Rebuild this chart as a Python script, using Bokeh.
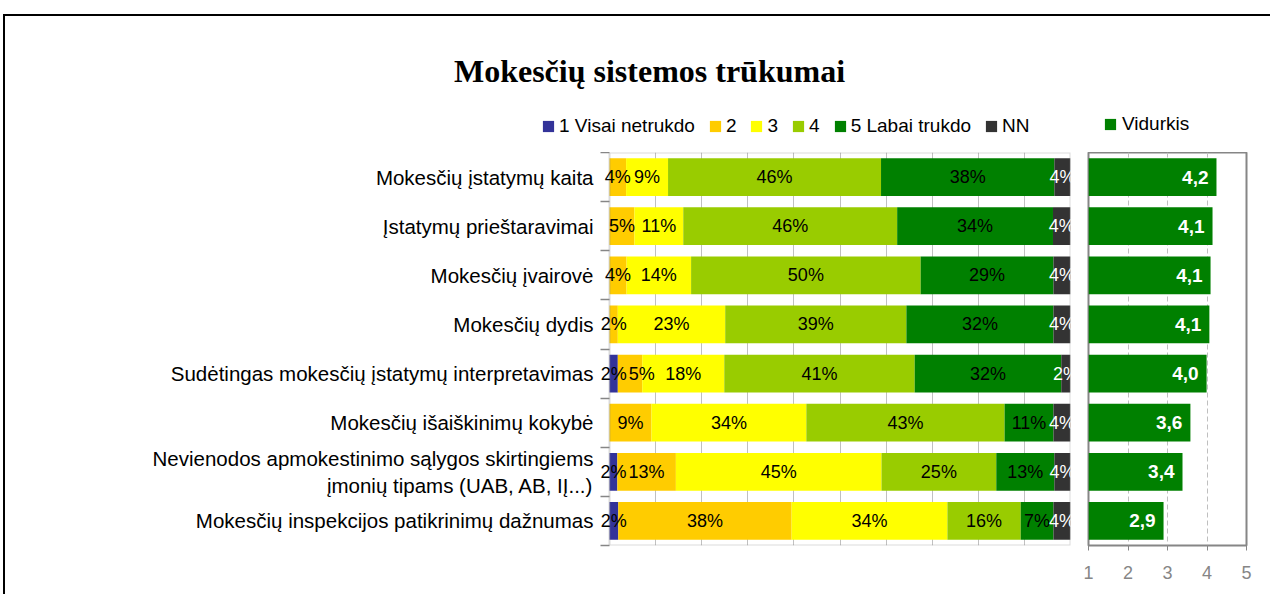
from bokeh.plotting import figure
from bokeh.models import (ColumnDataSource, Range1d, FixedTicker, LabelSet, Label,
                          Legend, LegendItem, BoxAnnotation)
from bokeh.layouts import row, column
from bokeh.core.properties import value
from bokeh.embed import file_html
from bokeh.resources import INLINE

# ---------------- data ----------------
title_text = "Mokesčių sistemos trūkumai"
categories = [
    "Mokesčių įstatymų kaita",
    "Įstatymų prieštaravimai",
    "Mokesčių įvairovė",
    "Mokesčių dydis",
    "Sudėtingas mokesčių įstatymų interpretavimas",
    "Mokesčių išaiškinimų kokybė",
    "Nevienodos apmokestinimo sąlygos skirtingiems\nįmonių tipams (UAB, AB, IĮ...)",
    "Mokesčių inspekcijos patikrinimų dažnumas",
]
series_names = ["1 Visai netrukdo", "2", "3", "4", "5 Labai trukdo", "NN"]
s1 = [0.0, 0.0, 0.0, 0.0, 1.8, 0.0, 1.7, 1.9]
s2 = [3.6, 5.4, 3.7, 1.8, 5.3, 9.1, 12.7, 37.6]
s3 = [9.1, 10.6, 14.0, 23.3, 17.8, 33.6, 44.6, 33.8]
s4 = [46.2, 46.4, 49.8, 39.3, 41.3, 43.0, 24.9, 15.9]
s5 = [37.6, 33.8, 28.8, 31.9, 31.8, 10.6, 12.6, 7.1]
snn = [3.5, 3.8, 3.7, 3.7, 2.0, 3.7, 3.5, 3.7]
avg_label = "Vidurkis"
averages = [4.24, 4.14, 4.09, 4.06, 3.99, 3.58, 3.38, 2.90]
avg_ticks = [1, 2, 3, 4, 5]

# ---------------- style ----------------
colors = ["#333399", "#FFCC00", "#FFFF00", "#99CC00", "#008000", "#333333"]
avg_color = "#008000"
label_colors = ["black", "black", "black", "black", "black", "white"]
FONT = "Liberation Sans"
GREY = "#868686"
n = len(categories)
centers = [i + 0.5 for i in range(n)]
bounds = list(range(n + 1))
BAR_H = 0.77
TOTAL_W = 1265
HEAD_H = 136

keys = ["s1", "s2", "s3", "s4", "s5", "snn"]
src = ColumnDataSource(dict(y=centers, s1=s1, s2=s2, s3=s3, s4=s4, s5=s5, snn=snn))
asrc = ColumnDataSource(dict(y=centers, avg=averages,
                             text=[f"{a:.1f}".replace(".", ",") for a in averages]))

# ---------------- header: title + legends ----------------
head = figure(width=TOTAL_W, height=HEAD_H, x_range=Range1d(0, TOTAL_W), y_range=Range1d(HEAD_H, 0),
              output_backend="svg", toolbar_location=None,
              min_border_left=0, min_border_right=0, min_border_top=0, min_border_bottom=0)
head.axis.visible = False
head.grid.visible = False
head.outline_line_color = None
head.border_fill_color = "white"
head.add_layout(Label(x=644, y=54, text=title_text, text_align="center", text_baseline="middle",
                      text_font="Liberation Serif", text_font_style="bold",
                      text_font_size="32px", text_color="black"))
# hidden copies of the series, used only as legend keys in the header
proxies = head.hbar_stack(keys, y="y", height=BAR_H, color=colors, line_color=None,
                          source=src, visible=False)
avg_proxy = head.hbar(y="y", left=avg_ticks[0], right="avg", height=BAR_H, color=avg_color,
                      line_color=None, source=asrc, visible=False)
leg_style = dict(orientation="horizontal", glyph_width=14, glyph_height=14, label_width=0,
                 padding=0, margin=0, border_line_color=None, background_fill_alpha=0,
                 inactive_fill_alpha=0, label_text_font=FONT, label_text_font_size="19px",
                 label_text_color="black")
leg1 = Legend(items=[LegendItem(label=nm, renderers=[r]) for nm, r in zip(series_names, proxies)],
              location=(536, 15), label_standoff=4, spacing=13, **leg_style)
leg2 = Legend(items=[LegendItem(label=avg_label, renderers=[avg_proxy])],
              location=(1098, 17), label_standoff=5, spacing=0, **leg_style)
head.add_layout(leg1)
head.add_layout(leg2)

# ---------------- left: stacked distribution ----------------
L_W, H = 1075, 442
MB_L, MB_R = 595, 10
FR_H = 393
FRAME_W = L_W - MB_L - MB_R
PAD_PX = 9
pad = 100.0 * PAD_PX / (FRAME_W - PAD_PX)
p = figure(width=L_W, height=H, x_range=Range1d(-pad, 100), y_range=Range1d(n, 0),
           output_backend="svg", toolbar_location=None,
           min_border_left=MB_L, min_border_right=MB_R,
           min_border_top=0, min_border_bottom=H - FR_H)
p.outline_line_color = None
p.background_fill_color = "white"
p.border_fill_color = "white"

p.hbar_stack(keys, y="y", height=BAR_H, color=colors, line_color=None, source=src)

p.add_layout(BoxAnnotation(left=0, right=100, top=0, bottom=n, fill_alpha=0,
                           line_color=GREY, line_width=2))

# percentage labels, centred in each segment, nudged right when they collide
px_per_unit = FRAME_W / (100.0 + pad)
lx, ly, lt, lc = [], [], [], []
series = [s1, s2, s3, s4, s5, snn]
for i in range(n):
    left = 0.0
    prev_right_px = -1e9
    for k, s in enumerate(series):
        v = s[i]
        if v > 0:
            txt = f"{int(v + 0.5)}%"
            w = (0.556 * (len(txt) - 1) + 0.889) * 18
            cx_px = (left + v / 2) * px_per_unit
            if cx_px - w / 2 < prev_right_px - 2:
                cx_px = prev_right_px + 2 + w / 2
            prev_right_px = cx_px + w / 2
            lx.append(cx_px / px_per_unit)
            ly.append(centers[i])
            lt.append(txt)
            lc.append(label_colors[k])
        left += v
lsrc = ColumnDataSource(dict(x=lx, y=ly, text=lt, color=lc))
p.add_layout(LabelSet(x="x", y="y", text="text", source=lsrc, text_color="color",
                      text_align="center", text_baseline="middle",
                      text_font=value(FONT), text_font_size="18px"))

p.xaxis.visible = False
p.xgrid.ticker = FixedTicker(ticks=list(range(10, 100, 10)))
p.xgrid.grid_line_color = "#c0c0c0"
p.ygrid.visible = False
p.yaxis.ticker = FixedTicker(ticks=centers, minor_ticks=bounds)
p.yaxis.major_label_overrides = {c: cat for c, cat in zip(centers, categories)}
p.yaxis.major_tick_line_color = None
p.yaxis.major_tick_in = 0
p.yaxis.major_tick_out = 0
p.yaxis.minor_tick_line_color = GREY
p.yaxis.minor_tick_line_width = 1.5
p.yaxis.minor_tick_in = PAD_PX
p.yaxis.minor_tick_out = 0
p.yaxis.axis_line_color = None
p.yaxis.major_label_standoff = 7
p.yaxis.major_label_text_font = FONT
p.yaxis.major_label_text_font_size = "20.5px"
p.yaxis.major_label_text_color = "black"

# ---------------- right: averages ----------------
R_W = TOTAL_W - L_W
q = figure(width=R_W, height=H, x_range=Range1d(avg_ticks[0], avg_ticks[-1]), y_range=Range1d(n, 0),
           output_backend="svg", toolbar_location=None,
           min_border_left=8, min_border_right=R_W - 8 - 158,
           min_border_top=0, min_border_bottom=H - FR_H)
q.outline_line_color = GREY
q.outline_line_width = 2
q.border_fill_color = "white"
q.hbar(y="y", left=avg_ticks[0], right="avg", height=BAR_H, color=avg_color,
       line_color=None, source=asrc)
q.add_layout(LabelSet(x="avg", y="y", text="text", source=asrc, text_color="white",
                      text_align="right", text_baseline="middle", x_offset=-8,
                      text_font=value(FONT), text_font_style="bold", text_font_size="19px"))
q.yaxis.visible = False
q.ygrid.visible = False
q.xaxis.ticker = FixedTicker(ticks=avg_ticks)
q.xaxis.axis_line_color = None
q.xaxis.major_tick_line_color = GREY
q.xaxis.major_tick_in = 0
q.xaxis.major_tick_out = 5
q.xaxis.minor_tick_line_color = None
q.xaxis.major_label_standoff = 15
q.xaxis.major_label_text_font = FONT
q.xaxis.major_label_text_font_size = "18px"
q.xaxis.major_label_text_color = GREY
q.xgrid.grid_line_color = "#bfbfbf"
q.xgrid.grid_line_dash = "5 3"

layout = column(head, row(p, q),
                styles={"border-top": "2px solid black", "border-left": "2px solid black",
                        "margin-left": "3px", "margin-top": "14px"})
open("out.html", "w").write(file_html(layout, INLINE))
